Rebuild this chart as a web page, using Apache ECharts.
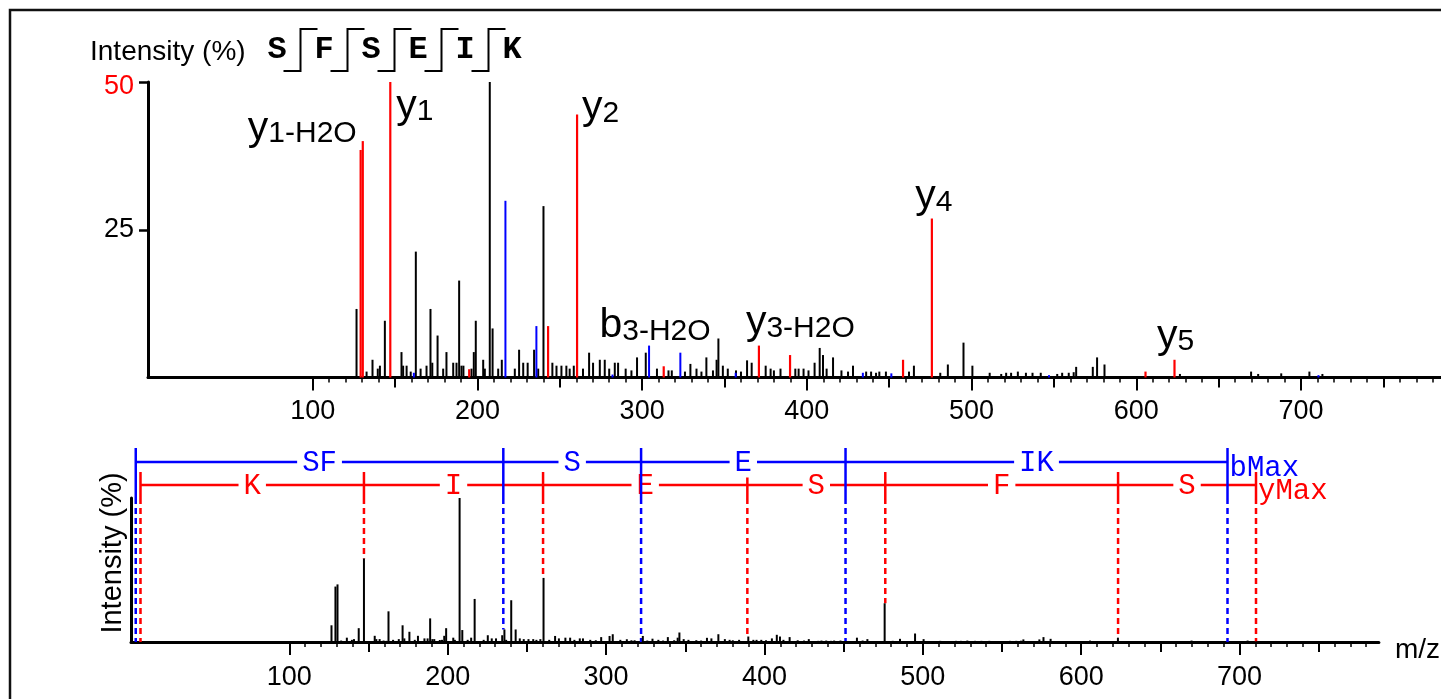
<!DOCTYPE html>
<html><head><meta charset="utf-8">
<script src="https://cdn.jsdelivr.net/npm/echarts@6/dist/echarts.min.js"></script>
<style>html,body{margin:0;padding:0;background:#fff}#c{width:1441px;height:699px}</style>
</head><body><div id="c"></div>
<script>
// ---------------- data ----------------
const peptide = ['S', 'F', 'S', 'E', 'I', 'K'];

// y-ion matched peaks [m/z, intensity %]
const yIonPeaks = [
  [129.1, 38.5], [130.4, 40.0], [147.1, 58.0], [195.0, 1.4], [242.9, 8.7], [260.5, 44.5],
  [313.1, 1.9], [370.9, 5.4], [389.8, 3.8], [458.4, 3.0], [475.9, 26.9], [605.6, 1.0], [623.2, 3.0]
];
// b-ion matched peaks
const bIonPeaks = [
  [161.4, 0.8], [217.0, 29.9], [235.8, 8.7], [282.0, 0.5], [304.2, 5.4], [323.2, 4.2],
  [356.8, 0.8], [434.0, 0.8], [451.3, 0.7], [547.0, 0.4], [710.6, 0.4]
];
// unmatched peaks
const otherPeaks = [
  [126.6, 11.6], [132.7, 1.0], [136.3, 3.0], [139.5, 1.5], [140.8, 2.0], [143.8, 9.6], [153.9, 4.3],
  [154.9, 2.0], [157.0, 2.0], [159.5, 1.0], [162.6, 21.3], [165.5, 1.5], [169.1, 2.0], [171.5, 11.6],
  [172.6, 2.5], [175.8, 7.1], [179.2, 1.5], [181.2, 4.3], [185.3, 2.5], [187.3, 2.5], [188.9, 16.4],
  [190.3, 2.0], [191.5, 2.0], [196.4, 1.5], [197.8, 4.3], [199.0, 9.6], [203.5, 3.0], [204.5, 1.5],
  [207.5, 100], [209.2, 8.3], [212.6, 1.5], [214.8, 3.0], [222.7, 1.5], [225.3, 4.7], [227.8, 2.5],
  [230.5, 2.5], [234.4, 4.7], [236.9, 1.5], [240.1, 29.0], [245.5, 2.5], [248.0, 2.0], [251.0, 2.0],
  [254.0, 2.0], [256.0, 1.5], [258.5, 2.0], [264.1, 1.5], [267.8, 4.2], [270.2, 2.5], [274.3, 3.0],
  [277.3, 3.0], [280.0, 1.5], [283.4, 2.5], [285.4, 2.5], [290.0, 1.5], [293.5, 1.2], [296.9, 3.4],
  [302.2, 4.2], [309.0, 1.5], [316.0, 1.2], [318.0, 1.2], [326.0, 1.0], [329.3, 2.3], [333.0, 1.5],
  [336.0, 1.0], [339.0, 3.4], [343.0, 1.2], [345.2, 3.0], [346.3, 6.6], [349.0, 2.0], [352.0, 1.5],
  [357.0, 1.2], [360.0, 1.0], [363.7, 2.9], [366.5, 2.5], [375.0, 2.0], [378.0, 1.5], [380.0, 1.2],
  [384.0, 1.5], [393.0, 1.5], [395.0, 1.5], [398.0, 1.5], [401.0, 1.2], [404.7, 2.5], [407.8, 5.0],
  [409.8, 3.8], [412.0, 1.5], [415.9, 3.4], [421.0, 1.2], [425.0, 1.0], [428.0, 2.0], [436.0, 1.0],
  [439.0, 1.0], [442.0, 0.8], [444.0, 1.0], [448.0, 1.0], [462.0, 1.0], [465.0, 2.0], [481.0, 0.8],
  [485.6, 2.2], [495.1, 5.9], [500.5, 2.0], [511.0, 0.8], [518.0, 0.6], [521.0, 0.8], [524.0, 0.8],
  [528.1, 1.0], [533.0, 0.8], [537.0, 0.8], [542.0, 0.8], [552.0, 0.6], [555.0, 0.8], [559.0, 0.8],
  [562.0, 0.9], [563.5, 1.8], [573.6, 1.8], [576.2, 3.4], [580.7, 2.2], [626.5, 0.6], [669.7, 1.0],
  [674.0, 0.6], [688.0, 0.7], [705.1, 1.0], [713.0, 0.6]
];

// fragment ladders (bottom panel)
const bLadderMz = [3.0, 235.1, 322.1, 451.2, 692.4];
const bLadderLabels = ['SF', 'S', 'E', 'IK'];
const yLadderMz = [6.0, 147.1, 260.2, 389.2, 476.3, 623.3, 710.4];
const yLadderLabels = ['K', 'I', 'E', 'S', 'F', 'S'];

// peak annotations: [ion letter, subscript, m/z]
const annotations = [
  ['y', '1-H2O', 129.1], ['y', '1', 147.1], ['y', '2', 260.5], ['b', '3-H2O', 304.2],
  ['y', '3-H2O', 370.9], ['y', '4', 475.9], ['y', '5', 623.2]
];

// axis ticks
const majorTicks = [100, 200, 300, 400, 500, 600, 700];
const midTicks = [150, 250, 350, 450, 550, 650, 750];
const minorTicks = [];
for (let t = 100; t <= 780; t += 10) minorTicks.push(t);
const topYTicks = [25, 50];

// ---------------- styling / helpers ----------------
const RED = '#ff0000', BLUE = '#0000ff', BLACK = '#000000';
const SANS = 'Liberation Sans', MONO = 'Liberation Mono';
const TOP_MAX = 50, BOT_MAX = 100;
const allPeaks = yIonPeaks.concat(bIonPeaks, otherPeaks);

function findInt(mz) {
  let best = allPeaks[0];
  allPeaks.forEach(p => { if (Math.abs(p[0] - mz) < Math.abs(best[0] - mz)) best = p; });
  return best[1];
}
// intensity of the peak matched to a fragment m/z (0 if none close)
function matchedInt(mz) {
  let v = 0;
  allPeaks.forEach(p => { if (Math.abs(p[0] - mz) < 1.0 && p[1] > v) v = p[1]; });
  return v;
}

function stems(data, color, xi, yi, cap, width, z) {
  return {
    type: 'custom', xAxisIndex: xi, yAxisIndex: yi, data: data, z: z || 5, clip: false,
    renderItem: function (params, api) {
      const x = api.value(0), v = Math.min(api.value(1), cap);
      const p0 = api.coord([x, 0]), p1 = api.coord([x, v]);
      return { type: 'line', shape: { x1: p0[0], y1: p0[1], x2: p1[0], y2: p1[1] },
        style: { stroke: color, lineWidth: width } };
    }
  };
}

function xAxes(gridIndex, max, labelMargin, extra) {
  const base = { type: 'value', gridIndex: gridIndex, min: 0, max: max, position: 'bottom',
    splitLine: { show: false } };
  return [
    Object.assign({}, base, {
      axisLine: { show: true, onZero: false, lineStyle: { color: BLACK, width: 3 } },
      axisTick: { show: true, customValues: majorTicks, length: 13, lineStyle: { color: BLACK, width: 2 } },
      axisLabel: { show: true, customValues: majorTicks, fontSize: 27, fontFamily: SANS, color: BLACK, margin: labelMargin }
    }, extra || {}),
    Object.assign({}, base, {
      axisLine: { show: false, onZero: false },
      axisTick: { show: true, customValues: midTicks, length: 10, lineStyle: { color: BLACK, width: 2 } },
      axisLabel: { show: false }
    }),
    Object.assign({}, base, {
      axisLine: { show: false, onZero: false },
      axisTick: { show: true, customValues: minorTicks, length: 5, lineStyle: { color: BLACK, width: 1.5 } },
      axisLabel: { show: false }
    })
  ];
}

// label placement for annotations (pixel offsets from peak top)
const annPlace = [
  { align: 'right', dx: -4, dy: -1 },
  { align: 'left', dx: 6, dy: 45 },
  { align: 'left', dx: 5, dy: 14 },
  { align: 'center', dx: 6, dy: 1 },
  { align: 'left', dx: -13, dy: -2 },
  { align: 'center', dx: 2, dy: -1 },
  { align: 'center', dx: 1, dy: -3 }
];

const annData = annotations.map((a, i) => [a[2], findInt(a[2]), i]);

const annSeries = {
  type: 'custom', xAxisIndex: 0, yAxisIndex: 0, data: annData, z: 10, clip: false,
  renderItem: function (params, api) {
    const i = api.value(2);
    const a = annotations[i], pl = annPlace[i];
    const p = api.coord([api.value(0), Math.min(api.value(1), TOP_MAX)]);
    return {
      type: 'text', x: p[0] + pl.dx, y: p[1] + pl.dy,
      style: {
        text: '{m|' + a[0] + '}{s|' + a[1] + '}',
        rich: {
          m: { fontSize: 41, fontFamily: SANS, fill: BLACK, verticalAlign: 'bottom', lineHeight: 42 },
          s: { fontSize: 30, fontFamily: SANS, fill: BLACK, verticalAlign: 'bottom', lineHeight: 36 }
        },
        align: pl.align, verticalAlign: 'bottom'
      }
    };
  }
};

const ladderSeries = {
  type: 'custom', xAxisIndex: 3, yAxisIndex: 1, data: [[0, 0]], z: 2, clip: false,
  renderItem: function (params, api) {
    const cs = params.coordSys;
    const top = cs.y, base = cs.y + cs.height;
    const children = [];
    const FONT = '29px "' + MONO + '"';
    function ladder(mzs, labels, color, lineY, tickTop, endText) {
      const xs = mzs.map(m => api.coord([m, 0])[0]);
      children.push({ type: 'line', shape: { x1: xs[0], y1: lineY, x2: xs[xs.length - 1], y2: lineY },
        style: { stroke: color, lineWidth: 2.5 } });
      labels.forEach((t, k) => {
        children.push({ type: 'text', x: (xs[k] + xs[k + 1]) / 2, y: lineY + 1,
          style: { text: t, fill: color, font: FONT, align: 'center', verticalAlign: 'middle',
            backgroundColor: '#fff', padding: [0, 5] } });
      });
      mzs.forEach((m, k) => {
        const x = xs[k];
        const stopY = api.coord([m, Math.min(matchedInt(m), BOT_MAX)])[1];
        children.push({ type: 'line', shape: { x1: x, y1: tickTop, x2: x, y2: top },
          style: { stroke: color, lineWidth: 2.5 } });
        children.push({ type: 'line', shape: { x1: x, y1: top, x2: x, y2: stopY },
          style: { stroke: color, lineWidth: 2.5, lineDash: [6, 4] } });
      });
      children.push({ type: 'text', x: xs[xs.length - 1] + 2, y: lineY - 8,
        style: { text: endText, fill: color, font: FONT, align: 'left', verticalAlign: 'top' } });
    }
    ladder(yLadderMz, yLadderLabels, RED, top - 13, top - 26, 'yMax');
    ladder(bLadderMz, bLadderLabels, BLUE, top - 36, top - 50, 'bMax');
    return { type: 'group', children: children };
  }
};

// header graphics
const header = [];
header.push({ type: 'rect', shape: { x: 10, y: 10, width: 1500, height: 800 },
  style: { fill: 'none', stroke: '#111', lineWidth: 2.5 }, silent: true });
header.push({ type: 'text', x: 90, y: 52, style: { text: 'Intensity (%)', font: '28px "' + SANS + '"',
  fill: BLACK, verticalAlign: 'middle' } });
const L0 = 277, LSTEP = 47;
peptide.forEach((ch, i) => {
  header.push({ type: 'text', x: L0 + i * LSTEP, y: 50, style: { text: ch, font: 'bold 32px "' + MONO + '"',
    fill: BLACK, align: 'center', verticalAlign: 'middle' } });
  if (i < peptide.length - 1) {
    const bx = L0 + (i + 0.5) * LSTEP;
    header.push({ type: 'polyline', shape: { points: [[bx - 17, 71], [bx, 71], [bx, 29], [bx + 17, 29]] },
      style: { stroke: BLACK, lineWidth: 2, fill: 'none' } });
  }
});

const allPeaksBottom = otherPeaks.concat(yIonPeaks, bIonPeaks);

const option = {
  animation: false,
  backgroundColor: '#fff',
  grid: [
    { left: 148, right: 0, top: 82, bottom: 321.5 },
    { left: 131, right: 61, top: 498, bottom: 57 }
  ],
  xAxis: xAxes(0, 785, 21).concat(xAxes(1, 788, 22, {
    name: 'm/z', nameLocation: 'end', nameGap: 16,
    nameTextStyle: { fontSize: 28, fontFamily: SANS, color: BLACK, verticalAlign: 'top', lineHeight: 16 }
  })),
  yAxis: [
    { type: 'value', gridIndex: 0, min: 0, max: TOP_MAX,
      axisLine: { show: true, lineStyle: { color: BLACK, width: 3 } },
      axisTick: { show: true, customValues: topYTicks, length: 9, lineStyle: { color: BLACK, width: 2.5 } },
      axisLabel: { show: true, customValues: topYTicks, fontSize: 27, fontFamily: SANS, margin: 14, color: BLACK,
        formatter: function (v) { return Number(v) === 50 ? '{r|50}' : String(v); },
        rich: { r: { color: RED, fontSize: 27, fontFamily: SANS, padding: [10, 0, 0, 0] } } },
      splitLine: { show: false } },
    { type: 'value', gridIndex: 1, min: 0, max: BOT_MAX,
      axisLine: { show: true, lineStyle: { color: BLACK, width: 3 } },
      axisTick: { show: false }, axisLabel: { show: false }, splitLine: { show: false },
      name: 'Intensity (%)', nameLocation: 'middle', nameGap: 4,
      nameTextStyle: { fontSize: 29, fontFamily: SANS, color: BLACK, padding: [0, 0, 0, 34] } }
  ],
  graphic: header,
  series: [
    stems(otherPeaks, BLACK, 0, 0, TOP_MAX, 2, 5),
    stems(bIonPeaks, BLUE, 0, 0, TOP_MAX, 2, 6),
    stems(yIonPeaks, RED, 0, 0, TOP_MAX, 2.2, 7),
    annSeries,
    ladderSeries,
    stems(allPeaksBottom, BLACK, 3, 1, BOT_MAX, 2, 5)
  ]
};

const chart = echarts.init(document.getElementById('c'), null, { renderer: 'canvas' });
chart.setOption(option);
</script>
</body></html>
